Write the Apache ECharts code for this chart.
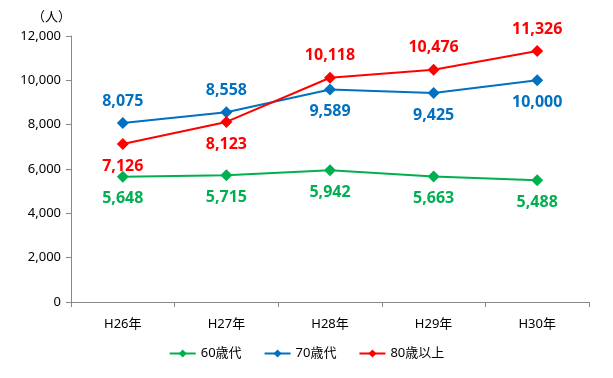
<!DOCTYPE html>
<html lang="ja">
<head>
    <meta charset="UTF-8">
    <title>年代別人数</title>
    <script src="https://cdn.jsdelivr.net/npm/echarts@6/dist/echarts.min.js"></script>
</head>
<body style="margin: 0">
<div id="chart" style="width: 613px;height: 378px"></div>
<script>
    let years = ['H26年', 'H27年', 'H28年', 'H29年', 'H30年']
    let age60 = [5648, 5715, 5942, 5663, 5488]
    let age70 = [8075, 8558, 9589, 9425, 10000]
    let age80 = [7126, 8123, 10118, 10476, 11326]
    // ラベル位置（上 / 下）
    let pos70 = ['top', 'top', 'bottom', 'bottom', 'bottom']
    let pos80 = ['bottom', 'bottom', 'top', 'top', 'top']

    let font = '"Noto Sans", "Noto Sans CJK JP", sans-serif'

    function makeData(values, positions) {
        return values.map((v, i) => ({
            value: v,
            label: {position: positions ? positions[i] : 'bottom'}
        }))
    }

    function makeSeries(name, color, data) {
        return {
            name: name,
            type: 'line',
            data: data,
            symbol: 'diamond',
            symbolSize: 12,
            lineStyle: {color: color, width: 2},
            itemStyle: {color: color},
            label: {
                show: true,
                color: color,
                fontSize: 16,
                fontWeight: 'bold',
                fontFamily: font,
                distance: 8,
                formatter: p => p.value.toLocaleString('en-US')
            }
        }
    }

    let chart = echarts.init(document.getElementById('chart'));
    chart.setOption({
        animation: false,
        grid: {left: 71, right: 24, top: 36, bottom: 76},
        graphic: [{
            type: 'text', left: 32, top: 10,
            style: {text: '（人）', font: '13px "Noto Sans CJK JP"', fill: '#000'}
        }],
        legend: {
            bottom: 13,
            left: 'center',
            itemWidth: 26,
            itemHeight: 10,
            itemGap: 22,
            textStyle: {fontSize: 13, color: '#000', fontFamily: font},
            data: ['60歳代', '70歳代', '80歳以上']
        },
        xAxis: {
            type: 'category',
            data: years,
            boundaryGap: true,
            axisLine: {lineStyle: {color: '#888'}},
            axisTick: {show: true, length: 5, lineStyle: {color: '#888'}},
            axisLabel: {color: '#000', fontSize: 13, fontFamily: font, margin: 16}
        },
        yAxis: {
            type: 'value',
            min: 0,
            max: 12000,
            interval: 2000,
            axisLine: {show: true, lineStyle: {color: '#888'}},
            axisTick: {show: true, length: 5, lineStyle: {color: '#888'}},
            splitLine: {show: false},
            axisLabel: {
                color: '#000', fontSize: 13, fontFamily: font, margin: 10,
                formatter: v => v.toLocaleString('en-US')
            }
        },
        series: [
            makeSeries('60歳代', '#00b050', makeData(age60)),
            makeSeries('70歳代', '#0070c0', makeData(age70, pos70)),
            makeSeries('80歳以上', '#ff0000', makeData(age80, pos80))
        ]
    });
</script>
</body>
</html>
